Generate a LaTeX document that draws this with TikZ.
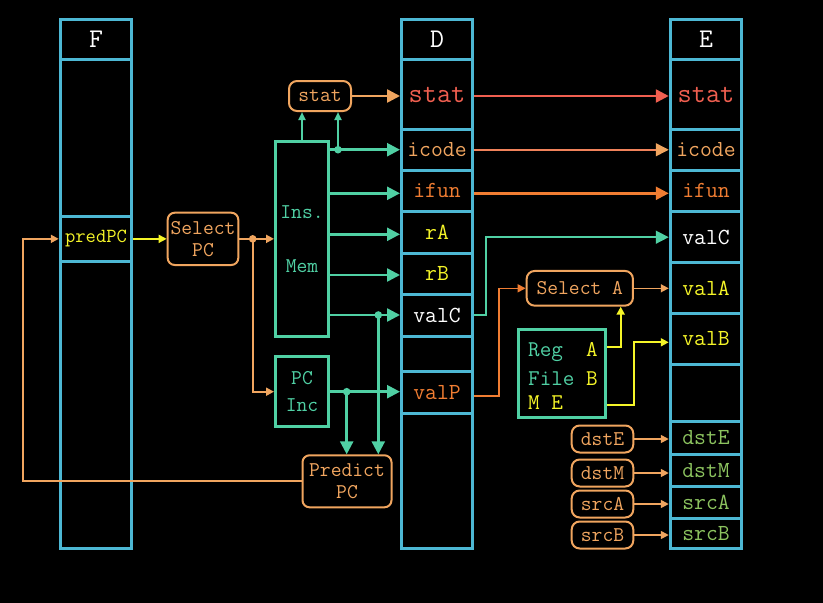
\documentclass[tikz,border=0pt]{standalone}
\usepackage{fontspec}
\usetikzlibrary{arrows.meta}
\definecolor{cblue}{RGB}{77,184,212}
\definecolor{cgreen}{RGB}{80,208,164}
\definecolor{corl}{RGB}{240,165,95}
\definecolor{cred}{RGB}{240,95,80}
\definecolor{cord}{RGB}{240,125,50}
\definecolor{cyel}{RGB}{245,245,40}
\definecolor{colive}{RGB}{140,195,95}
\definecolor{csalm}{RGB}{240,130,90}
\newcommand\fH{\fontsize{27}{30}\selectfont\ttfamily}
\newcommand\fS{\fontsize{27.5}{30}\selectfont\ttfamily}
\newcommand\fR{\fontsize{23}{26}\selectfont\ttfamily}
\newcommand\fP{\fontsize{20}{22}\selectfont\ttfamily}
\newcommand\fB{\fontsize{21}{22}\selectfont\ttfamily}
\begin{document}
\begin{tikzpicture}[x=1pt,y=-1pt,
  cell/.style={draw=cblue, line width=3pt, minimum width=71.5pt, inner sep=0pt, font=\fR, text=white},
  rbox/.style={draw=corl, line width=2pt, rounded corners=7pt, inner sep=0pt, text=corl, font=\fB, align=center},
  gbox/.style={draw=cgreen, line width=3pt, inner sep=0pt, text=cgreen, font=\fB, align=center},
  bigtip/.style={-{Triangle[length=13pt,width=13pt]}},
  smalltip/.style={-{Triangle[length=8pt,width=8pt]}},
  gl/.style={draw=cgreen, line width=2.5pt},
  ol/.style={draw=corl, line width=2pt},
  yl/.style={draw=cyel, line width=2pt}]
\fill[black] (0,0) rectangle (823,603);
\useasboundingbox (0,0) rectangle (823,603);
% F column
\node[cell, minimum height=40.2pt, font=\fH] (Fh) at (96,39.6) {F};
\node[cell, minimum height=157pt] (F1) at (96,138.2) {};
\node[cell, minimum height=44.3pt, font=\fP, text=cyel] (FpredPC) at (96,238.85) {predPC};
\node[cell, minimum height=287.3pt] (F2) at (96,404.65) {};
% D column
\node[cell, minimum width=71pt, minimum height=40.2pt, font=\fH] (Dh) at (437,39.6) {D};
\node[cell, minimum width=71pt, minimum height=69.8pt, font=\fS, text=cred] (Dstat) at (437,94.6) {stat};
\node[cell, minimum width=71pt, minimum height=40.5pt, text=corl] (Dicode) at (437,149.75) {icode};
\node[cell, minimum width=71pt, minimum height=41.7pt, text=cord] (Difun) at (437,190.85) {ifun};
\node[cell, minimum width=71pt, minimum height=41.3pt, text=cyel] (DrA) at (437,232.35) {rA};
\node[cell, minimum width=71pt, minimum height=41.3pt, text=cyel] (DrB) at (437,273.65) {rB};
\node[cell, minimum width=71pt, minimum height=42.4pt] (DvalC) at (437,315.5) {valC};
\node[cell, minimum width=71pt, minimum height=35pt] (De1) at (437,354.2) {};
\node[cell, minimum width=71pt, minimum height=41.3pt, text=cord] (DvalP) at (437,392.35) {valP};
\node[cell, minimum width=71pt, minimum height=135.3pt] (De2) at (437,480.65) {};
% E column
\node[cell, minimum height=40.2pt, font=\fH] (Eh) at (706,39.6) {E};
\node[cell, minimum height=69.8pt, font=\fS, text=cred] (Estat) at (706,94.6) {stat};
\node[cell, minimum height=40.5pt, text=corl] (Eicode) at (706,149.75) {icode};
\node[cell, minimum height=41.7pt, text=cord] (Eifun) at (706,190.85) {ifun};
\node[cell, minimum height=51pt] (EvalC) at (706,237.2) {valC};
\node[cell, minimum height=50.6pt, text=cyel] (EvalA) at (706,288) {valA};
\node[cell, minimum height=50.7pt, text=cyel] (EvalB) at (706,338.65) {valB};
\node[cell, minimum height=57.7pt] (Ee) at (706,392.85) {};
\node[cell, minimum height=32.6pt, text=colive] (EdstE) at (706,438) {dstE};
\node[cell, minimum height=32.4pt, text=colive] (EdstM) at (706,470.5) {dstM};
\node[cell, minimum height=32pt, text=colive] (EsrcA) at (706,502.7) {srcA};
\node[cell, minimum height=29.6pt, text=colive] (EsrcB) at (706,533.5) {srcB};
% logic boxes
\node[rbox, minimum width=62pt, minimum height=30pt, rounded corners=8pt] (statbox) at (320,96) {stat};
\node[gbox, minimum width=53pt, minimum height=195.3pt, font=\fontsize{21}{54}\selectfont\ttfamily] (InsMem) at (302,239.2) {Ins.\\Mem};
\node[gbox, minimum width=53pt, minimum height=70.3pt, font=\fontsize{21}{27}\selectfont\ttfamily] (PCInc) at (302,391.7) {PC\\Inc};
\node[rbox, minimum width=70.6pt, minimum height=52.3pt] (SelectPC) at (203,238.85) {Select\\PC};
\node[rbox, minimum width=89pt, minimum height=52pt] (PredictPC) at (347,481.3) {Predict\\PC};
\node[rbox, minimum width=106.3pt, minimum height=34.7pt, rounded corners=8pt] (SelectA) at (579.8,288.3) {Select A};
\node[gbox, minimum width=87.6pt, minimum height=88pt] (RegFile) at (562,373.8) {};
\node[anchor=base west, inner sep=0pt, font=\fontsize{22.5}{24}\selectfont\ttfamily] (tReg) at (528,356.7) {\textcolor{cgreen}{Reg}~~\textcolor{cyel}{A}};
\node[anchor=base west, inner sep=0pt, font=\fontsize{22.5}{24}\selectfont\ttfamily] (tFile) at (528,385) {\textcolor{cgreen}{File}~\textcolor{cyel}{B}};
\node[anchor=base west, inner sep=0pt, font=\fontsize{22.5}{24}\selectfont\ttfamily, text=cyel] (tME) at (528,409) {M~E};
\node[rbox, minimum width=61.6pt, minimum height=27pt, rounded corners=8pt] (dstE) at (602.5,439) {dstE};
\node[rbox, minimum width=61.6pt, minimum height=27pt, rounded corners=8pt] (dstM) at (602.5,473) {dstM};
\node[rbox, minimum width=61.6pt, minimum height=27pt, rounded corners=8pt] (srcA) at (602.5,504) {srcA};
\node[rbox, minimum width=61.6pt, minimum height=27pt, rounded corners=8pt] (srcB) at (602.5,535) {srcB};
% coordinates
\coordinate (j1) at (338,149.7);
\coordinate (r2) at (0,193.3);
\coordinate (r3) at (0,234.3);
\coordinate (r4) at (0,275);
\coordinate (j2) at (378.3,315);
\coordinate (j3) at (346.7,391.7);
\coordinate (j4) at (252.7,238.85);
\coordinate (lp) at (23.3,0);
\coordinate (k1) at (486,0);
\coordinate (k2) at (499,0);
\coordinate (vp) at (0,396);
\coordinate (k3) at (620.7,0);
\coordinate (ra) at (0,346.7);
\coordinate (k4) at (634,0);
\coordinate (re) at (0,405);
\coordinate (vb) at (0,342.3);
% connectors from instruction memory
\draw[ol, line width=2.5pt, bigtip] (statbox.east) -- (Dstat.west |- statbox.east);
\draw[gl, line width=2pt, -{Triangle[length=8pt,width=7pt]}] (InsMem.north) -- (InsMem.north |- statbox.south);
\draw[gl, line width=2pt, -{Triangle[length=8pt,width=7pt]}] (j1) -- (j1 |- statbox.south);
\draw[gl, bigtip] (InsMem.east |- j1) -- (Dicode.west |- j1);
\draw[gl, bigtip] (InsMem.east |- r2) -- (Difun.west |- r2);
\draw[gl, bigtip] (InsMem.east |- r3) -- (DrA.west |- r3);
\draw[gl, bigtip] (InsMem.east |- r4) -- (DrB.west |- r4);
\draw[gl, bigtip] (InsMem.east |- j2) -- (DvalC.west |- j2);
\draw[gl, bigtip] (j2) -- (j2 |- PredictPC.north);
\draw[gl, bigtip] (PCInc.east) -- (DvalP.west |- PCInc.east);
\draw[gl, bigtip] (j3) -- (j3 |- PredictPC.north);
\fill[cgreen] (j1) circle (3.8pt);
\fill[cgreen] (j2) circle (3.8pt);
\fill[cgreen] (j3) circle (3.8pt);
% fetch loop
\draw[ol, smalltip] (PredictPC.west) -| (lp |- FpredPC.west) -- (FpredPC.west);
\draw[yl, line width=1.6pt, smalltip] (FpredPC.east) -- (SelectPC.west);
\draw[ol, smalltip] (SelectPC.east) -- (InsMem.west |- SelectPC.east);
\draw[ol, smalltip] (j4) |- (PCInc.west);
\fill[corl] (j4) circle (3.8pt);
% D to E
\draw[draw=cred, line width=2.5pt, -{Triangle[length=13pt,width=13pt,fill=cred]}] (Dstat.east |- statbox.east) -- (Estat.west |- statbox.east);
\draw[draw=csalm, line width=1.5pt, -{Triangle[length=13pt,width=13pt,color=corl,fill=corl]}] (Dicode.east) -- (Eicode.west);
\draw[draw=cord, line width=2.5pt, bigtip] (Difun.east |- r2) -- (Eifun.west |- r2);
\draw[draw=cgreen, line width=1.6pt, bigtip] (DvalC.east |- j2) -| (k1 |- EvalC.west) -- (EvalC.west);
\draw[draw=cord, line width=1.6pt, smalltip] (DvalP.east |- vp) -| (k2 |- SelectA.west) -- (SelectA.west);
\draw[draw=corl, line width=1.6pt, smalltip] (SelectA.east) -- (EvalA.west |- SelectA.east);
\draw[yl, smalltip] (RegFile.east |- ra) -| (k3 |- SelectA.south);
\draw[yl, smalltip] (RegFile.east |- re) -| (k4 |- vb) -- (EvalB.west |- vb);
\draw[draw=corl, line width=1.6pt, smalltip] (dstE.east) -- (EdstE.west |- dstE.east);
\draw[draw=corl, line width=1.6pt, smalltip] (dstM.east) -- (EdstM.west |- dstM.east);
\draw[draw=corl, line width=1.6pt, smalltip] (srcA.east) -- (EsrcA.west |- srcA.east);
\draw[draw=corl, line width=1.6pt, smalltip] (srcB.east) -- (EsrcB.west |- srcB.east);
\end{tikzpicture}
\end{document}
